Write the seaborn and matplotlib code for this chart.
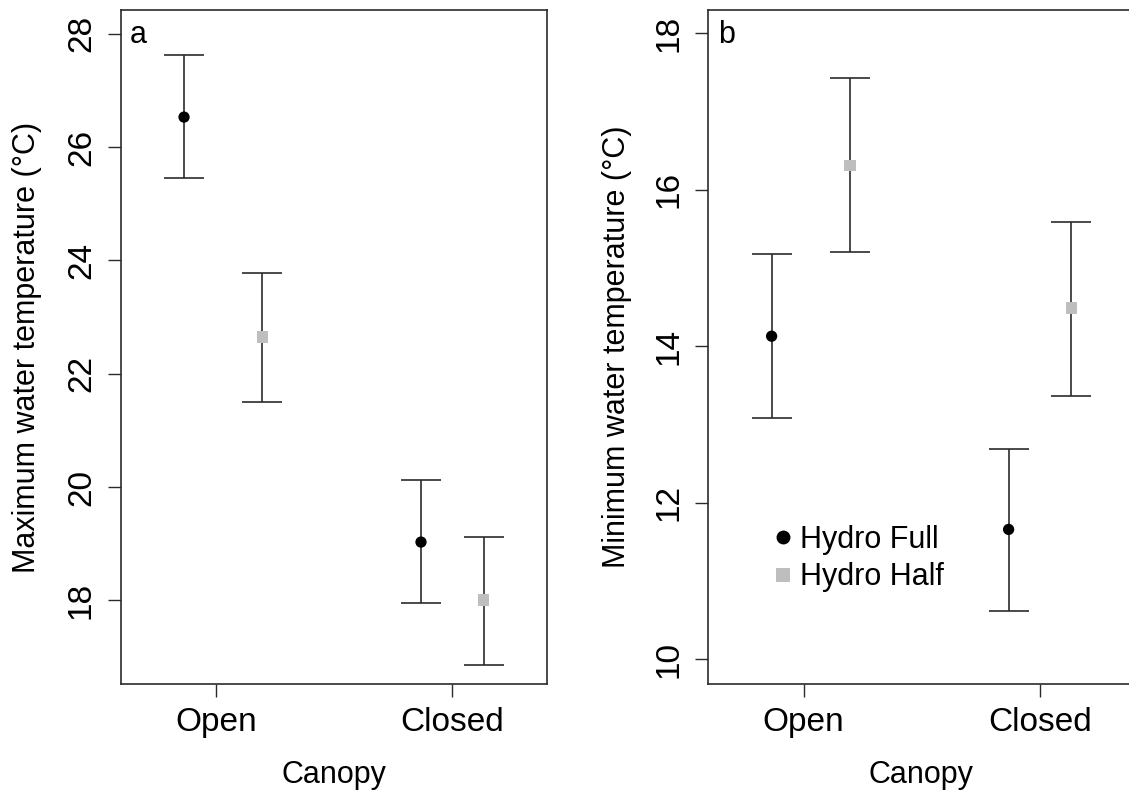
import matplotlib
matplotlib.use("Agg")
import matplotlib.pyplot as plt
import numpy as np
import pandas as pd
import seaborn as sns

# ---------------- data ----------------
canopy = ["Open", "Closed"]
treatments = ["Hydro Full", "Hydro Half"]

# panel a: maximum water temperature (°C), mean and error-bar limits
max_mean_full = [26.53, 19.03]
max_low_full = [25.45, 17.95]
max_high_full = [27.62, 20.12]
max_mean_half = [22.65, 18.01]
max_low_half = [21.50, 16.86]
max_high_half = [23.78, 19.12]

# panel b: minimum water temperature (°C)
min_mean_full = [14.13, 11.66]
min_low_full = [13.09, 10.62]
min_high_full = [15.18, 12.69]
min_mean_half = [16.31, 14.49]
min_low_half = [15.20, 13.37]
min_high_half = [17.43, 15.59]

max_yticks = [18, 20, 22, 24, 26, 28]
min_yticks = [10, 12, 14, 16, 18]

# ---------------- style ----------------
OFFSETS = {"Hydro Full": [-0.135, -0.132], "Hydro Half": [0.197, 0.134]}
PALETTE = {"Hydro Full": "black", "Hydro Half": "#BEBEBE"}
MARKERS = {"Hydro Full": "o", "Hydro Half": "s"}
LINE_COLOR = "#2b2b2b"

sns.set_theme(style="ticks")
plt.rcParams["font.family"] = ["Liberation Sans", "DejaVu Sans"]
plt.rcParams["text.color"] = "black"
plt.rcParams["axes.labelcolor"] = "black"


def build_frame(mean_full, low_full, high_full, mean_half, low_half, high_half):
    rows = []
    series = {
        "Hydro Full": (mean_full, low_full, high_full),
        "Hydro Half": (mean_half, low_half, high_half),
    }
    for t in treatments:
        m, lo, hi = series[t]
        for i, c in enumerate(canopy):
            rows.append({"canopy": c, "treatment": t, "mean": m[i], "low": lo[i],
                         "high": hi[i], "x": i + OFFSETS[t][i]})
    return pd.DataFrame(rows)


df_max = build_frame(max_mean_full, max_low_full, max_high_full,
                     max_mean_half, max_low_half, max_high_half)
df_min = build_frame(min_mean_full, min_low_full, min_high_full,
                     min_mean_half, min_low_half, min_high_half)

W, H = 1129, 796
fig = plt.figure(figsize=(W / 100, H / 100), dpi=100)
ax_w, ax_h = 426, 674.3
bottom = (H - 684.3) / H
ax_a = fig.add_axes([120.7 / W, bottom, ax_w / W, ax_h / H])
ax_b = fig.add_axes([708.3 / W, bottom, ax_w / W, ax_h / H])


def draw(ax, df, ylim, yticks, ylabel, tag, legend):
    for t in treatments:
        sub = df[df["treatment"] == t]
        ax.errorbar(sub["x"], sub["mean"],
                    yerr=[sub["mean"] - sub["low"], sub["high"] - sub["mean"]],
                    fmt="none", ecolor=LINE_COLOR, elinewidth=1.2,
                    capsize=14.4, capthick=1.2, zorder=2)
    sns.scatterplot(data=df, x="x", y="mean", hue="treatment", style="treatment",
                    hue_order=treatments, style_order=treatments,
                    palette=PALETTE, markers=MARKERS, s=66, linewidth=0,
                    ax=ax, legend=legend, zorder=3)
    ax.set_xlim(-0.403, 1.40)
    ax.set_ylim(*ylim)
    ax.set_xticks(range(len(canopy)))
    ax.set_xticklabels(canopy)
    ax.set_yticks(yticks)
    ax.set_yticklabels([str(v) for v in yticks])
    plt.setp(ax.get_yticklabels(), rotation=90, va="center")
    ax.tick_params(axis="both", direction="out", length=9.4, width=1.0,
                   color=LINE_COLOR, labelsize=24, labelcolor="black")
    ax.tick_params(axis="y", pad=7.7)
    ax.tick_params(axis="x", pad=7)
    for sp in ax.spines.values():
        sp.set_color(LINE_COLOR)
        sp.set_linewidth(1.2)
    ax.set_xlabel("Canopy", fontsize=22, color="black")
    ax.set_ylabel(ylabel, fontsize=22, color="black", va="center")
    ax.xaxis.set_label_coords(0.5, -0.113)
    ax.yaxis.set_label_coords(-0.22, 0.5)
    ax.text(0.022, 0.951, tag, transform=ax.transAxes, ha="left",
            va="baseline", fontsize=22, color="black")
    ax.grid(False)


draw(ax_a, df_max, (16.52, 28.42), max_yticks,
     "Maximum water temperature (°C)", "a", False)
draw(ax_b, df_min, (9.68, 18.30), min_yticks,
     "Minimum water temperature (°C)", "b", True)
ax_b.yaxis.set_label_coords(-0.214, 0.5)

sns.move_legend(ax_b, loc="center left", bbox_to_anchor=(0.1495, 0.1866),
                frameon=False, title=None, fontsize=22, handlelength=0.7,
                handletextpad=0.22, borderpad=0, borderaxespad=0,
                labelspacing=0.25)
leg = ax_b.get_legend()
for h in leg.legend_handles:
    if hasattr(h, "set_markersize"):
        h.set_markersize(10.0)
    elif hasattr(h, "set_sizes"):
        h.set_sizes([100])
for txt in leg.get_texts():
    txt.set_color("black")

fig.savefig("out.png", dpi=100)
